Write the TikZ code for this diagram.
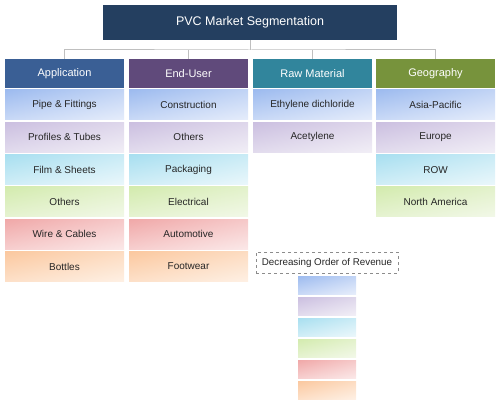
\documentclass[tikz,border=0pt]{standalone}
\usepackage{fontspec}
\setmainfont{Liberation Sans}
\usetikzlibrary{shadings}
\begin{document}
\begin{tikzpicture}[x=1pt,y=-1pt,
  conn/.style={draw=black!25, line width=1pt},
  title/.style={fill=titlec, text=white, minimum width=294pt, minimum height=35pt, inner sep=0pt, font=\fontsize{12.5}{14}\selectfont},
  head/.style={text=white, minimum width=119pt, minimum height=29pt, inner sep=0pt, font=\fontsize{11}{13}\selectfont},
  item/.style={minimum width=119pt, minimum height=30pt, inner sep=0pt, text=black!85, font=\fontsize{10}{12}\selectfont},
  swatch/.style={minimum width=58pt, minimum height=18pt, inner sep=0pt},
  grad/.style 2 args={upper left=#1, upper right=#1!50!#2, lower left=#1!40!#2, lower right=#2},
  cb/.style={grad={bA}{bB}},
  cp/.style={grad={pA}{pB}},
  cc/.style={grad={cA}{cB}},
  cg/.style={grad={gA}{gB}},
  cr/.style={grad={rA}{rB}},
  co/.style={grad={oA}{oB}},
  legend/.style={draw=black!45, dashed, line width=0.8pt, minimum width=142pt, minimum height=21pt, inner sep=0pt, text=black!85, font=\fontsize{9.8}{12}\selectfont}
]
\definecolor{titlec}{HTML}{243F60}
\definecolor{appc}{HTML}{3A5F95}
\definecolor{euc}{HTML}{604A7B}
\definecolor{rmc}{HTML}{31859C}
\definecolor{geoc}{HTML}{77933C}
\definecolor{bA}{HTML}{9DBBEF}
\definecolor{bB}{HTML}{E6EDFB}
\definecolor{pA}{HTML}{CBBFE0}
\definecolor{pB}{HTML}{F1EEF6}
\definecolor{cA}{HTML}{A8DFF0}
\definecolor{cB}{HTML}{EAF7FB}
\definecolor{gA}{HTML}{D3EBAE}
\definecolor{gB}{HTML}{F2F8E8}
\definecolor{rA}{HTML}{F0A8A8}
\definecolor{rB}{HTML}{FBE8E8}
\definecolor{oA}{HTML}{FBC89F}
\definecolor{oB}{HTML}{FEF0E4}

\useasboundingbox (0,0) rectangle (500,403);

\node[title] (t) at (250,22.5) {PVC Market Segmentation};

\node[head, fill=appc] (app) at (64.5,73.5) {Application};
\node[head, fill=euc] (eu) at (188.5,73.5) {End-User};
\node[head, fill=rmc] (rm) at (312.5,73.5) {Raw Material};
\node[head, fill=geoc] (geo) at (435.5,73.5) {Geography};

\coordinate (bus) at (250,50);
\draw[conn] (t.south) -- (bus);
\draw[conn] (app.north) |- (bus) -| (geo.north);
\draw[conn] (eu.north) -- (eu.north |- bus);
\draw[conn] (rm.north) -- (rm.north |- bus);

% Application
\node[item, cb] (a1) at (64.5,105) {Pipe \& Fittings};
\node[item, cp] (a2) at (64.5,137.3) {Profiles \& Tubes};
\node[item, cc] (a3) at (64.5,169.6) {Film \& Sheets};
\node[item, cg] (a4) at (64.5,201.9) {Others};
\node[item, cr] (a5) at (64.5,234.2) {Wire \& Cables};
\node[item, co] (a6) at (64.5,266.5) {Bottles};
% End-User
\node[item, cb] (e1) at (188.5,105) {Construction};
\node[item, cp] (e2) at (188.5,137.3) {Others};
\node[item, cc] (e3) at (188.5,169.6) {Packaging};
\node[item, cg] (e4) at (188.5,201.9) {Electrical};
\node[item, cr] (e5) at (188.5,234.2) {Automotive};
\node[item, co] (e6) at (188.5,266.5) {Footwear};
% Raw material
\node[item, cb] (r1) at (312.5,105) {Ethylene dichloride};
\node[item, cp] (r2) at (312.5,137.3) {Acetylene};
% Geography
\node[item, cb] (g1) at (435.5,105) {Asia-Pacific};
\node[item, cp] (g2) at (435.5,137.3) {Europe};
\node[item, cc] (g3) at (435.5,169.6) {ROW};
\node[item, cg] (g4) at (435.5,201.9) {North America};

% Legend
\node[legend] (lg) at (327,262.5) {Decreasing Order of Revenue};
\node[swatch, cb] (s1) at (327,285) {};
\node[swatch, cp] (s2) at (327,306) {};
\node[swatch, cc] (s3) at (327,327) {};
\node[swatch, cg] (s4) at (327,348) {};
\node[swatch, cr] (s5) at (327,369) {};
\node[swatch, co] (s6) at (327,390) {};
\end{tikzpicture}
\end{document}
